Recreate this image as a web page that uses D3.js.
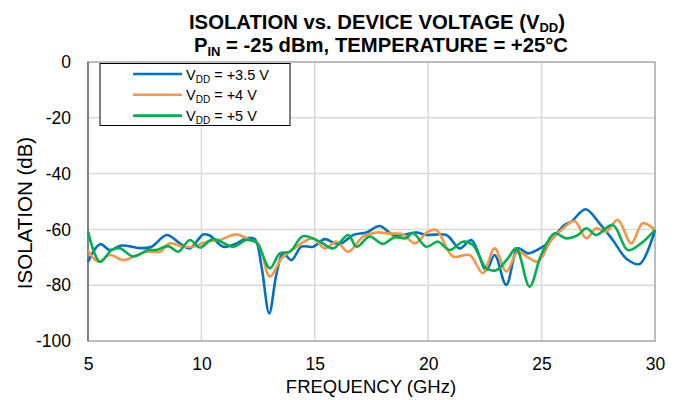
<!DOCTYPE html>
<html><head><meta charset="utf-8">
<script src="https://cdn.jsdelivr.net/npm/d3@7"></script>
<style>body{margin:0;background:#fff}svg{display:block}text{font-family:"Liberation Sans",Arial,sans-serif}</style>
</head><body><svg id="c" width="685" height="400"></svg>
<script>
const xTicks = [5,10,15,20,25,30];
const yTicks = [0,-20,-40,-60,-80,-100];
const seriesNames = ["+3.5 V","+4 V","+5 V"];
const seriesColors = ["#0070C0","#F79646","#00B050"];
const blue = [[5,-71.7],[5.53,-65.3],[5.97,-67.4],[6.48,-65.8],[7.29,-66.7],[7.8,-66.2],[8.47,-62.0],[9.05,-65],[9.49,-66.8],[10.08,-61.8],[10.37,-62.2],[10.96,-66.2],[11.55,-65],[11.99,-63.2],[12.36,-63.5],[12.65,-73.3],[12.99,-90.1],[13.31,-76],[13.6,-68.6],[13.97,-71],[14.41,-66.2],[14.93,-66.2],[15.44,-63.5],[15.88,-65],[16.17,-65],[16.69,-62],[17.28,-61.1],[17.86,-58.8],[18.45,-62],[18.89,-62],[19.48,-61.1],[19.92,-62],[20.8,-62],[21.39,-66.8],[21.9,-63.8],[22.56,-74.6],[22.93,-69.2],[23.44,-79.9],[23.96,-66.8],[24.4,-68.6],[25.06,-66.2],[25.35,-64.4],[26.01,-58.4],[26.31,-57.2],[26.94,-52.8],[27.55,-57.8],[28.14,-63.8],[28.73,-70.4],[29.32,-72.4],[30,-60.2]];
const orange = [[5,-67.4],[5.45,-71.6],[5.97,-69.2],[6.56,-71],[7.07,-69.5],[7.59,-68],[8.17,-68],[8.61,-65],[9.2,-66.2],[9.64,-66.2],[10.23,-64.4],[10.81,-63.8],[11.55,-61.8],[12.14,-63.8],[12.5,-65],[13.02,-76.9],[13.53,-70.4],[13.9,-68],[14.41,-65],[14.93,-63.2],[15.44,-66.8],[15.96,-64.4],[16.47,-68],[17.13,-62.6],[17.72,-61.1],[18.3,-61.5],[18.89,-61.8],[19.41,-65],[19.99,-60.8],[20.36,-60.2],[21.09,-69.7],[21.83,-69.2],[22.41,-75.7],[22.93,-66.8],[23.44,-75.1],[23.96,-68],[24.47,-70.4],[24.84,-71.6],[25.43,-63.8],[25.87,-60.2],[26.45,-57],[26.97,-63.2],[27.41,-59.6],[27.85,-60.8],[28.36,-56.6],[28.95,-65],[29.46,-57.8],[30,-60.2]];
const green = [[5,-60.8],[5.53,-71.6],[6.04,-67.4],[6.41,-66.8],[7.0,-69.7],[7.66,-67.4],[8.0,-67.4],[8.54,-66],[8.98,-68],[9.49,-63.8],[9.93,-66.5],[10.52,-63.5],[11.4,-66.2],[11.99,-63.8],[12.43,-64.7],[13.02,-73.9],[13.46,-68.6],[13.9,-68],[14.49,-62.4],[15.22,-64.4],[15.81,-66.8],[16.47,-62],[16.84,-66.2],[17.42,-62.6],[18.0,-65.2],[18.52,-62.8],[19.0,-63.2],[19.33,-61.4],[19.92,-66.2],[20.43,-64.4],[20.95,-67.4],[21.53,-64.4],[21.97,-65.6],[22.56,-73.9],[23.0,-74.6],[23.51,-70.4],[23.88,-66.8],[24.47,-80.5],[24.98,-69.2],[25.57,-61.4],[26.08,-63.2],[26.6,-62],[26.97,-59.6],[27.41,-62],[28.14,-58.4],[28.8,-67.4],[29.39,-65],[30,-60.2]];
const seriesData = [blue, orange, green];

const svg = d3.select("#c");
const L=88, R=655, T=62, B=341;
const x = d3.scaleLinear().domain([5,30]).range([L,R]);
const y = d3.scaleLinear().domain([-100,0]).range([B,T]);

// grid
svg.append("g").selectAll("line").data(xTicks.slice(1,-1)).join("line")
  .attr("x1",d=>x(d)).attr("x2",d=>x(d)).attr("y1",T).attr("y2",B)
  .attr("stroke","#d9d9d9").attr("stroke-width",1.5);
svg.append("g").selectAll("line").data(yTicks.slice(1,-1)).join("line")
  .attr("x1",L).attr("x2",R).attr("y1",d=>y(d)).attr("y2",d=>y(d))
  .attr("stroke","#d9d9d9").attr("stroke-width",1.5);
// border
svg.append("rect").attr("x",L).attr("y",T).attr("width",R-L).attr("height",B-T)
  .attr("fill","none").attr("stroke","#a6a6a6").attr("stroke-width",1.5);
svg.append("line").attr("x1",L).attr("x2",L).attr("y1",T).attr("y2",B).attr("stroke","#808080").attr("stroke-width",2);

// axes labels via d3 axes
const fmt = d => String(d);
const xa = svg.append("g").attr("transform",`translate(0,${B})`)
  .call(d3.axisBottom(x).tickValues(xTicks).tickSize(0).tickPadding(16.5).tickFormat(fmt));
const ya = svg.append("g").attr("transform",`translate(${L},0)`)
  .call(d3.axisLeft(y).tickValues(yTicks).tickSize(0).tickPadding(17).tickFormat(fmt));
[xa,ya].forEach(g=>{g.select(".domain").remove();g.selectAll("text").attr("font-size",17.5).attr("fill","#000").attr("font-family","Liberation Sans, Arial, sans-serif");});

// lines
const line = d3.line().x(d=>x(d[0])).y(d=>y(d[1])).curve(d3.curveCatmullRom.alpha(0.5));
svg.append("g").selectAll("path").data(seriesData).join("path")
  .attr("d",line).attr("fill","none").attr("stroke",(d,i)=>seriesColors[i]).attr("stroke-width",2.6);

// legend
const lg = svg.append("g");
lg.append("rect").attr("x",100).attr("y",63.5).attr("width",190).attr("height",62)
  .attr("fill","#fff").attr("stroke","#000").attr("stroke-width",1);
seriesNames.forEach((n,i)=>{
  const yy = 74 + i*20.8;
  lg.append("line").attr("x1",133).attr("x2",182).attr("y1",yy).attr("y2",yy).attr("stroke",seriesColors[i]).attr("stroke-width",2.6);
  const t = lg.append("text").attr("x",186).attr("y",yy+5.5).attr("font-size",14.5);
  t.append("tspan").text("V");
  t.append("tspan").attr("font-size",10).attr("dy",3).text("DD");
  t.append("tspan").attr("dy",-3).text(" = "+n);
});

// titles
const t1 = svg.append("text").attr("x",377).attr("y",29).attr("text-anchor","middle").attr("font-weight","bold").attr("font-size",20.3);
t1.append("tspan").text("ISOLATION vs. DEVICE VOLTAGE (V");
t1.append("tspan").attr("font-size",13).attr("dy",3).text("DD");
t1.append("tspan").attr("dy",-3).text(")");
const t2 = svg.append("text").attr("x",381).attr("y",52).attr("text-anchor","middle").attr("font-weight","bold").attr("font-size",20.3);
t2.append("tspan").text("P");
t2.append("tspan").attr("font-size",13).attr("dy",4).text("IN");
t2.append("tspan").attr("dy",-4).text(" = -25 dBm, TEMPERATURE = +25°C");

svg.append("text").attr("x",371).attr("y",393).attr("text-anchor","middle").attr("font-size",18.5).text("FREQUENCY (GHz)");
svg.append("text").attr("transform","translate(31.5,213) rotate(-90)").attr("text-anchor","middle").attr("font-size",20.5).text("ISOLATION (dB)");
</script></body></html>
